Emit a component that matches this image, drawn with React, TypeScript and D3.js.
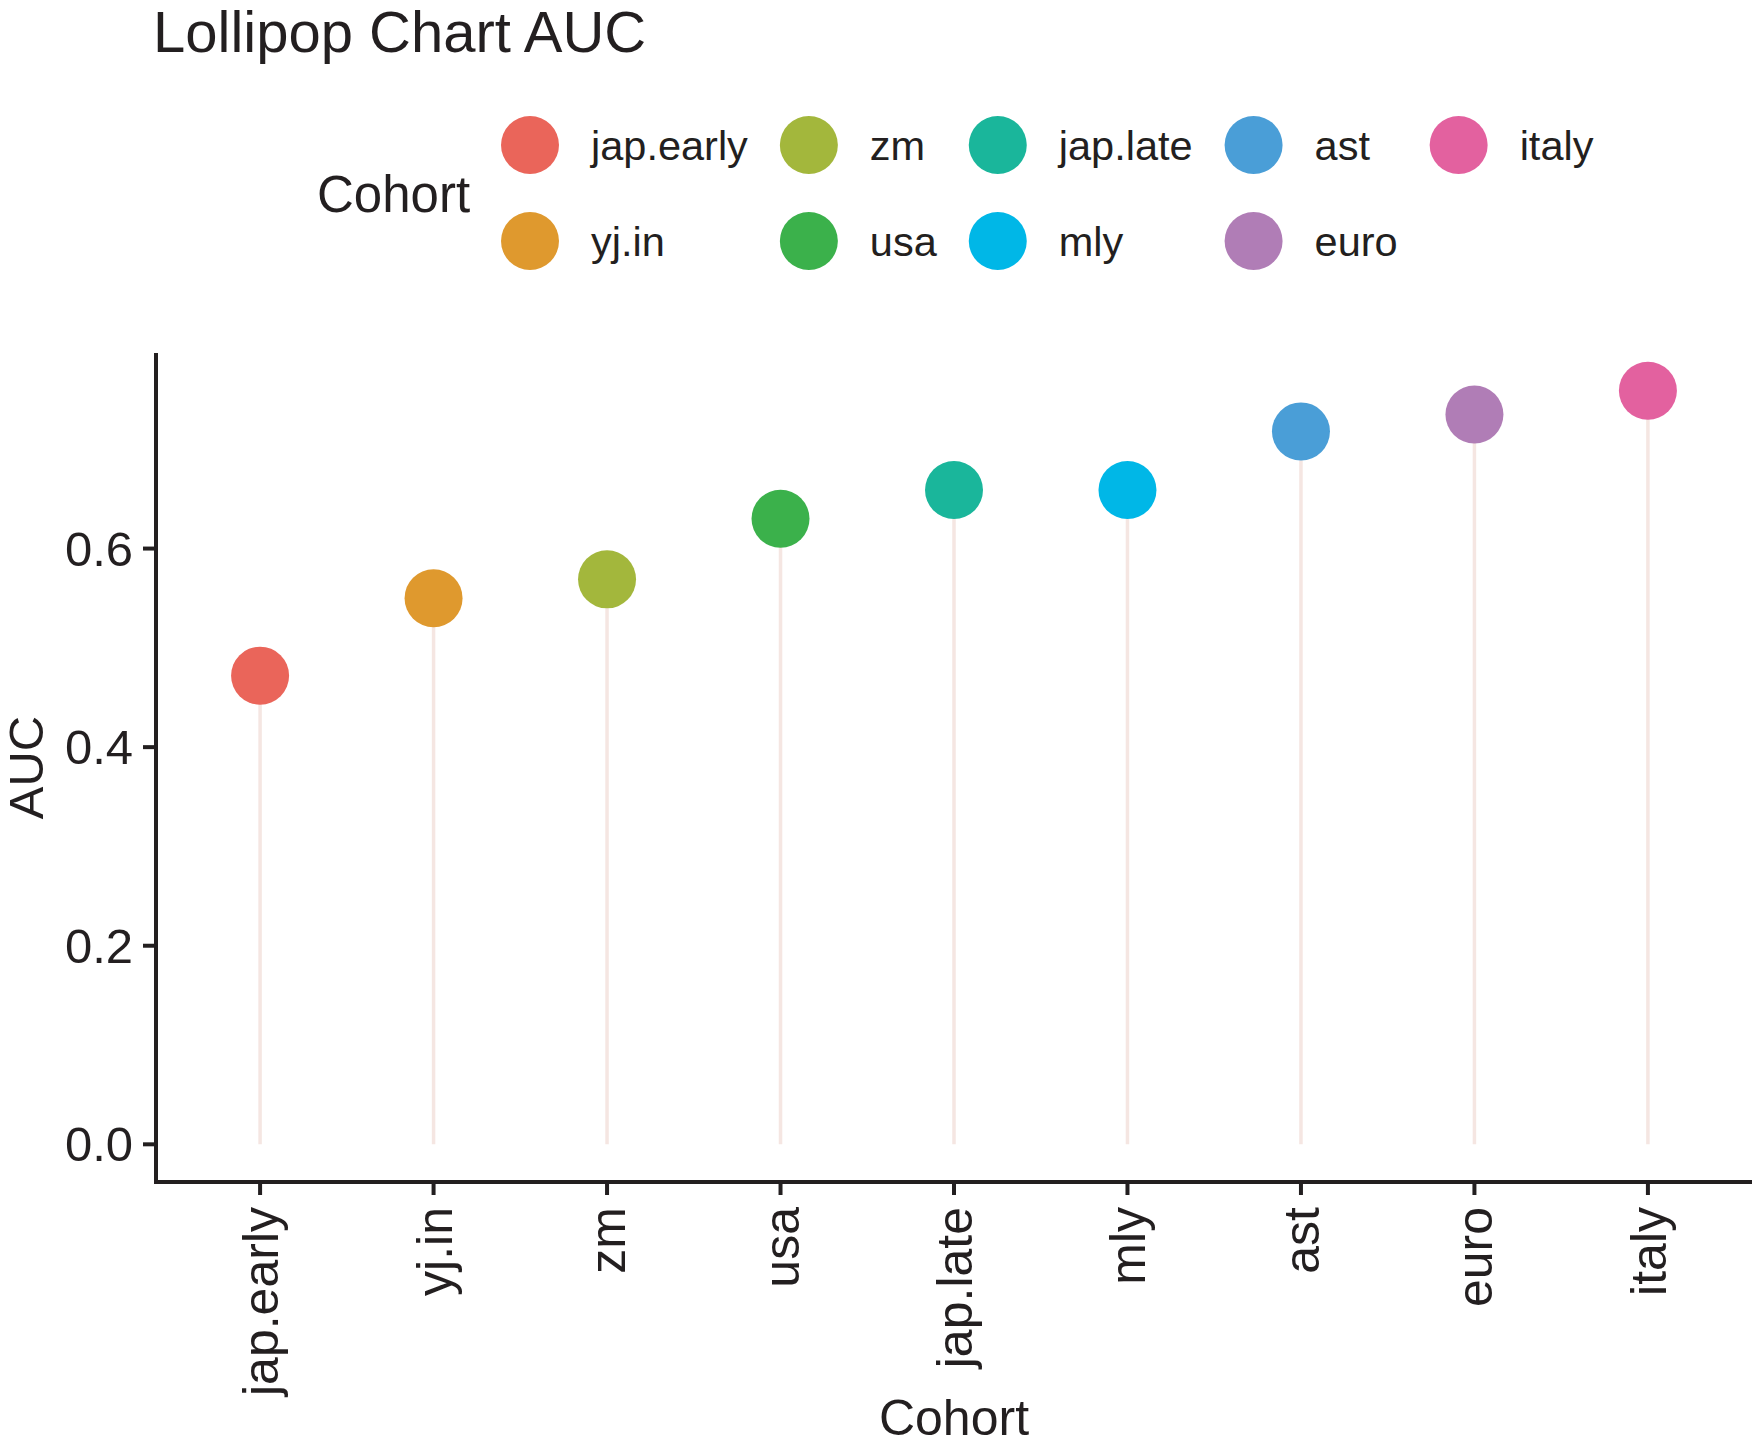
import React, { useEffect, useMemo } from "react";
import * as d3 from "d3";

const cohorts = ["jap.early", "yj.in", "zm", "usa", "jap.late", "mly", "ast", "euro", "italy"];
const aucValues = [0.472, 0.55, 0.569, 0.63, 0.659, 0.659, 0.718, 0.735, 0.759];
const cohortColors = ["#EA655A", "#DF992E", "#A3B73C", "#3BB14B", "#1AB69B", "#00B7E7", "#4A9ED7", "#B07DB6", "#E3619F"];
const yTicks = [0, 0.2, 0.4, 0.6];

const W = 1758;
const H = 1447;
const FONT = "'Liberation Sans', Arial, Helvetica, sans-serif";
const INK = "#231f20";

const panel = { left: 156, right: 1752, top: 353, bottom: 1182 };
const legendFont = 41.5;
const legendRows = 2;

function measure(text: string, size: number): number {
  const canvas = document.createElement("canvas");
  const ctx = canvas.getContext("2d");
  if (!ctx) return text.length * size * 0.5;
  ctx.font = `${size}px 'Liberation Sans', Arial, sans-serif`;
  return ctx.measureText(text).width;
}

const App: React.FC = () => {
  useEffect(() => {
    document.body.style.margin = "0";
  }, []);

  const maxVal = d3.max(aucValues) ?? 1;
  const x = d3.scalePoint<string>().domain(cohorts).range([panel.left, panel.right]).padding(0.6);
  const y = d3
    .scaleLinear()
    .domain([-0.05 * maxVal, maxVal * 1.05])
    .range([panel.bottom, panel.top]);
  const color = d3.scaleOrdinal<string, string>().domain(cohorts).range(cohortColors);

  // legend laid out column by column, 2 rows
  const legendItems = useMemo(() => {
    const cols = Math.ceil(cohorts.length / legendRows);
    const items: { name: string; cx: number; cy: number; lx: number }[] = [];
    let keyX = 530;
    for (let c = 0; c < cols; c++) {
      const names = cohorts.slice(c * legendRows, c * legendRows + legendRows);
      const labelX = keyX + 61;
      names.forEach((name, r) => {
        items.push({ name, cx: keyX, cy: 145 + r * 96, lx: labelX });
      });
      const maxW = d3.max(names, (n) => measure(n, legendFont)) ?? 0;
      keyX = labelX + maxW + 61;
    }
    return items;
  }, []);

  return (
    <svg width={W} height={H} viewBox={`0 0 ${W} ${H}`} style={{ display: "block", background: "#fff" }} fontFamily={FONT}>
      <text x={153} y={52} fontSize={58} fill={INK}>
        Lollipop Chart AUC
      </text>

      {/* legend */}
      <text x={317} y={212} fontSize={51} fill={INK}>
        Cohort
      </text>
      {legendItems.map((d) => (
        <g key={d.name}>
          <circle cx={d.cx} cy={d.cy} r={29} fill={color(d.name)} />
          <text x={d.lx} y={d.cy + legendFont * 0.36} fontSize={legendFont} fill={INK}>
            {d.name}
          </text>
        </g>
      ))}

      {/* stems */}
      {cohorts.map((c, i) => (
        <line
          key={`stem-${c}`}
          x1={x(c)}
          x2={x(c)}
          y1={y(0)}
          y2={y(aucValues[i])}
          stroke="#F5E6E2"
          strokeWidth={3.5}
        />
      ))}
      {/* heads */}
      {cohorts.map((c, i) => (
        <circle key={`pt-${c}`} cx={x(c)} cy={y(aucValues[i])} r={29} fill={color(c)} />
      ))}

      {/* y axis */}
      <line x1={panel.left} x2={panel.left} y1={panel.top} y2={panel.bottom + 2} stroke={INK} strokeWidth={4} />
      {yTicks.map((t) => (
        <g key={`yt-${t}`}>
          <line x1={panel.left - 13} x2={panel.left} y1={y(t)} y2={y(t)} stroke={INK} strokeWidth={4} />
          <text x={133} y={y(t) + 17} fontSize={49} textAnchor="end" fill={INK}>
            {d3.format(".1f")(t)}
          </text>
        </g>
      ))}

      {/* x axis */}
      <line x1={panel.left - 2} x2={panel.right} y1={panel.bottom} y2={panel.bottom} stroke={INK} strokeWidth={4} />
      {cohorts.map((c) => (
        <g key={`xt-${c}`}>
          <line x1={x(c)} x2={x(c)} y1={panel.bottom} y2={panel.bottom + 13} stroke={INK} strokeWidth={4} />
          <text
            transform={`translate(${(x(c) ?? 0) + 18},${panel.bottom + 25}) rotate(-90)`}
            fontSize={50}
            textAnchor="end"
            fill={INK}
          >
            {c}
          </text>
        </g>
      ))}

      {/* axis titles */}
      <text x={(panel.left + panel.right) / 2} y={1435} fontSize={50} textAnchor="middle" fill={INK}>
        Cohort
      </text>
      <text
        transform={`translate(43,${(panel.top + panel.bottom) / 2}) rotate(-90)`}
        fontSize={49}
        textAnchor="middle"
        fill={INK}
      >
        AUC
      </text>
    </svg>
  );
};

export default App;
